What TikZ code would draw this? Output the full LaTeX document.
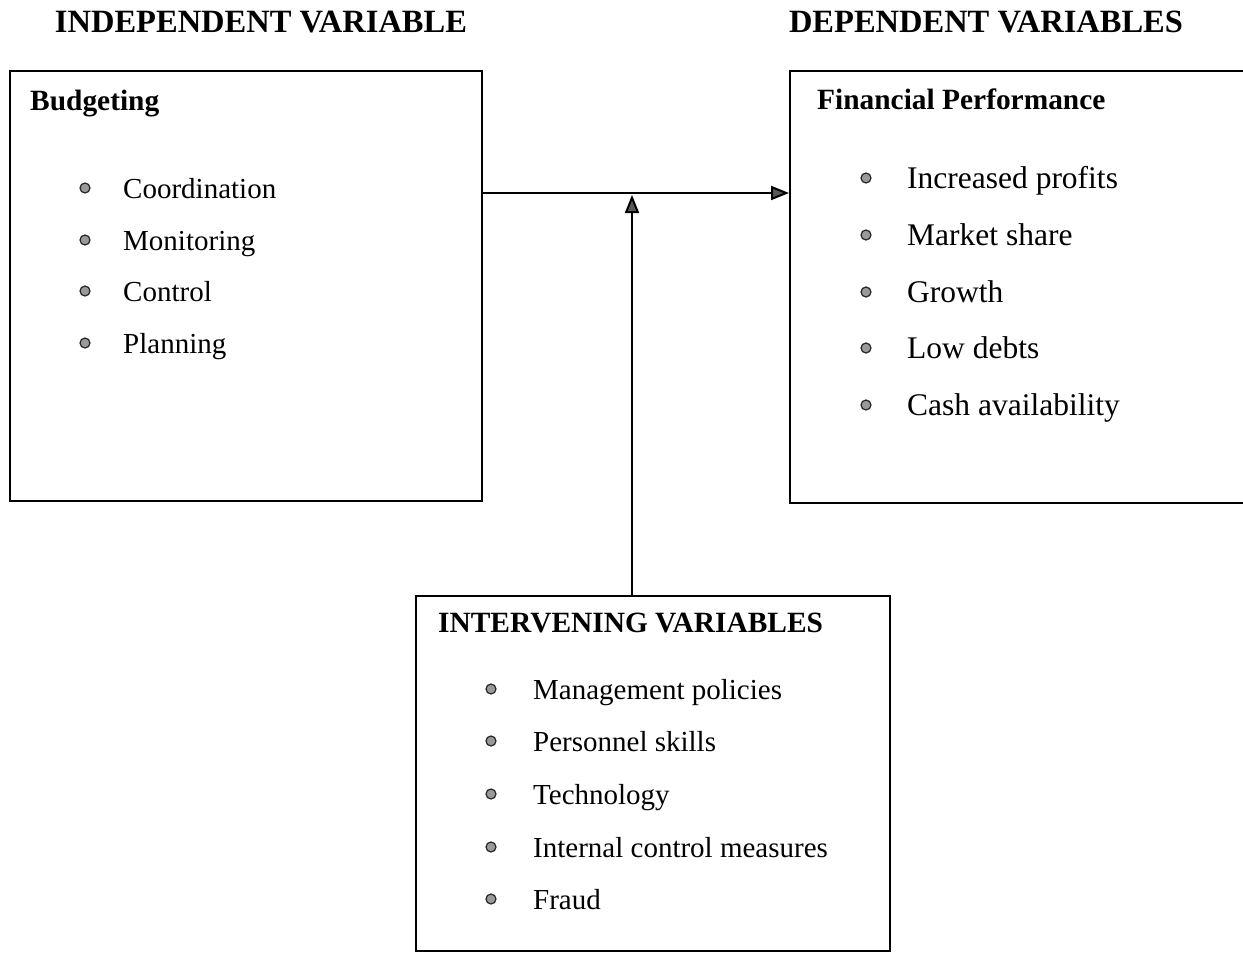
\documentclass[tikz,border=0pt]{standalone}
\usepackage{fontspec}
\setmainfont{Liberation Serif}
\usetikzlibrary{arrows.meta}
\begin{document}
\begin{tikzpicture}
[x=1pt,y=-1pt,
  boxdecorate/.style={shape=rectangle,draw,line width=2pt,inner sep=0pt},%
  headdecorate/.style={font=\fontsize{32.5}{38}\selectfont\bfseries,anchor=base},%
  titledecorate/.style={font=\fontsize{29.4}{35}\selectfont\bfseries,anchor=base west,inner sep=0pt},%
  itemdecorate/.style={font=\fontsize{29}{34}\selectfont,anchor=base west,inner sep=0pt},%
  bigitemdecorate/.style={font=\fontsize{31.5}{37}\selectfont,anchor=base west,inner sep=0pt},%
  bulletdecorate/.style={shape=circle,draw=black!85,fill=gray!80,line width=1.2pt,minimum size=10pt,inner sep=0pt},%
  arrowdecorate/.style={line width=2pt,-{Triangle[length=18pt,width=14pt,fill=gray!70!black]}}]
\useasboundingbox (0,0) rectangle (1243,953);
\clip (0,0) rectangle (1243,953);
% headings
\node (headin) [headdecorate] at (261,32) {INDEPENDENT VARIABLE};
\node (headdep) [headdecorate] at (986,32) {DEPENDENT VARIABLES};
% boxes
\node (budget) at (246,286) [boxdecorate,minimum width=472pt,minimum height=430pt] {};
\node (finance) at (1020,287) [boxdecorate,minimum width=460pt,minimum height=432pt] {};
\node (intervene) at (653,773.5) [boxdecorate,minimum width=474pt,minimum height=355pt] {};
% box titles
\node (budgettitle) [titledecorate] at (30,110) {Budgeting};
\node (financetitle) [titledecorate] at (817,109) {Financial Performance};
\node (intervenetitle) [titledecorate] at (438,632) {INTERVENING VARIABLES};
% budgeting items
\foreach \y/\t [count=\i] in {198/Coordination,250/Monitoring,301/Control,353/Planning}
{
\node (bb\i) at (85,\y-10) [bulletdecorate] {};
\node (bt\i) [itemdecorate] at (123,\y) {\t};
}
% performance items
\foreach \y/\t [count=\i] in {188/Increased profits,245/Market share,302/Growth,358/Low debts,415/Cash availability}
{
\node (fb\i) at (866,\y-10) [bulletdecorate] {};
\node (ft\i) [bigitemdecorate] at (907,\y) {\t};
}
% intervening items
\foreach \y/\t [count=\i] in {699/Management policies,751/Personnel skills,804/Technology,857/Internal control measures,909/Fraud}
{
\node (ib\i) at (491,\y-10) [bulletdecorate] {};
\node (it\i) [itemdecorate] at (533,\y) {\t};
}
% edges or lines
\coordinate (join) at (632,193);
\draw[arrowdecorate] (join -| budget.east) -- (join -| finance.west);
\draw[arrowdecorate,shorten >=2pt] (join |- intervene.north) -- (join);
\end{tikzpicture}
\end{document}
